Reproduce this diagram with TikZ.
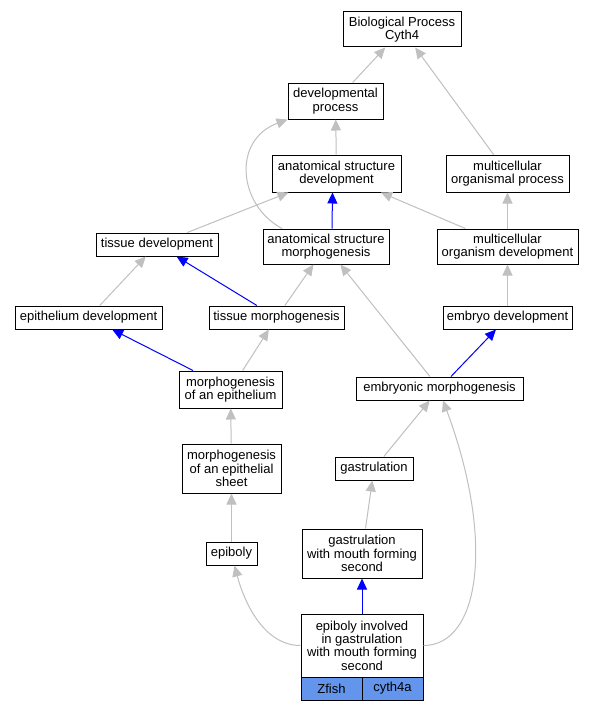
\documentclass[tikz,border=0pt]{standalone}
\usepackage{fontspec}
\setmainfont{Liberation Sans}
\usetikzlibrary{arrows.meta}
\definecolor{edgegray}{HTML}{C0C0C0}
\definecolor{fillblue}{HTML}{6495ED}
\begin{document}
\begin{tikzpicture}[x=1pt,y=-1pt,
  box/.style={draw=black, line width=1pt, fill=white, align=center, inner sep=0pt,
    font=\fontsize{13}{13.4}\selectfont},
  garrow/.style={draw=edgegray, line width=1pt, -{Triangle[length=11pt,width=10pt]}},
  barrow/.style={draw=blue, line width=1pt, -{Triangle[length=11pt,width=10pt]}}]
\useasboundingbox (0,0) rectangle (595,709);
\fill[white] (0,0) rectangle (595,709);
% nodes
\node[box, minimum width=118pt, minimum height=35pt] (bp) at (402,29.5) {Biological Process\\Cyth4};
\node[box, minimum width=95pt, minimum height=36pt] (dp) at (335.5,101) {developmental\\process};
\node[box, minimum width=129pt, minimum height=37pt] (asd) at (336.5,173.5) {anatomical structure\\development};
\node[box, minimum width=123pt, minimum height=37pt] (mop) at (507.5,173.5) {multicellular\\organismal process};
\node[box, minimum width=122pt, minimum height=23pt] (td) at (157,244.5) {tissue development};
\node[box, minimum width=126pt, minimum height=35pt] (asm) at (326,246.5) {anatomical structure\\morphogenesis};
\node[box, minimum width=141pt, minimum height=35pt] (mod) at (507.5,246.5) {multicellular\\organism development};
\node[box, minimum width=147pt, minimum height=23pt] (ed) at (88.5,317.5) {epithelium development};
\node[box, minimum width=135pt, minimum height=23pt] (tm) at (276.5,317.5) {tissue morphogenesis};
\node[box, minimum width=129pt, minimum height=23pt] (embd) at (507.5,317.5) {embryo development};
\node[box, minimum width=103pt, minimum height=37pt] (moe) at (230.5,389.5) {morphogenesis\\of an epithelium};
\node[box, minimum width=167pt, minimum height=23pt] (em) at (439.5,388.5) {embryonic morphogenesis};
\node[box, minimum width=99pt, minimum height=49pt] (mes) at (231.5,468.5) {morphogenesis\\of an epithelial\\sheet};
\node[box, minimum width=78pt, minimum height=23pt] (gas) at (374,468.5) {gastrulation};
\node[box, minimum width=51pt, minimum height=23pt] (epi) at (231.5,553.5) {epiboly};
\node[box, minimum width=120pt, minimum height=49pt] (gw) at (362,553.5) {gastrulation\\with mouth forming\\second};
\node[box, minimum width=122pt, minimum height=63pt] (bot) at (362,645.5) {epiboly involved\\in gastrulation\\with mouth forming\\second};
\node[box, fill=fillblue, minimum width=61pt, minimum height=23pt] (zf) at (331.5,688.5) {Zfish};
\node[box, fill=fillblue, minimum width=61pt, minimum height=23pt] (cy) at (392.5,688.5) {cyth4a};
% edges
\draw[garrow] (dp) -- (bp);
\draw[garrow] (mop) -- (bp);
\draw[garrow] (asd) -- (dp);
\draw[garrow] ([xshift=-44pt]asm.north) .. controls (238,205) and (232,140) .. (dp.south west);
\draw[barrow] ([xshift=6pt]asm.north) -- ([xshift=-4pt]asd.south);
\draw[garrow] (td) -- (asd);
\draw[garrow] (mod) -- (asd);
\draw[garrow] (mod) -- (mop);
\draw[garrow] (ed) -- (td);
\draw[barrow] (tm) -- (td);
\draw[garrow] (tm) -- (asm);
\draw[garrow] (em) -- (asm);
\draw[garrow] (embd) -- (mod);
\draw[barrow] (moe) -- (ed);
\draw[garrow] (moe) -- (tm);
\draw[barrow] (em) -- (embd);
\draw[garrow] (mes) -- (moe);
\draw[garrow] (gas) -- (em);
\draw[garrow] (epi) -- (mes);
\draw[garrow] (gw) -- (gas);
\draw[barrow] (bot) -- (gw);
\draw[garrow] (bot.west) .. controls (265,645.5) and (245,605) .. ([xshift=3pt]epi.south);
\draw[garrow] (bot.east) .. controls (480,645.5) and (495,540) .. ([xshift=3.5pt]em.south);
\end{tikzpicture}
\end{document}
